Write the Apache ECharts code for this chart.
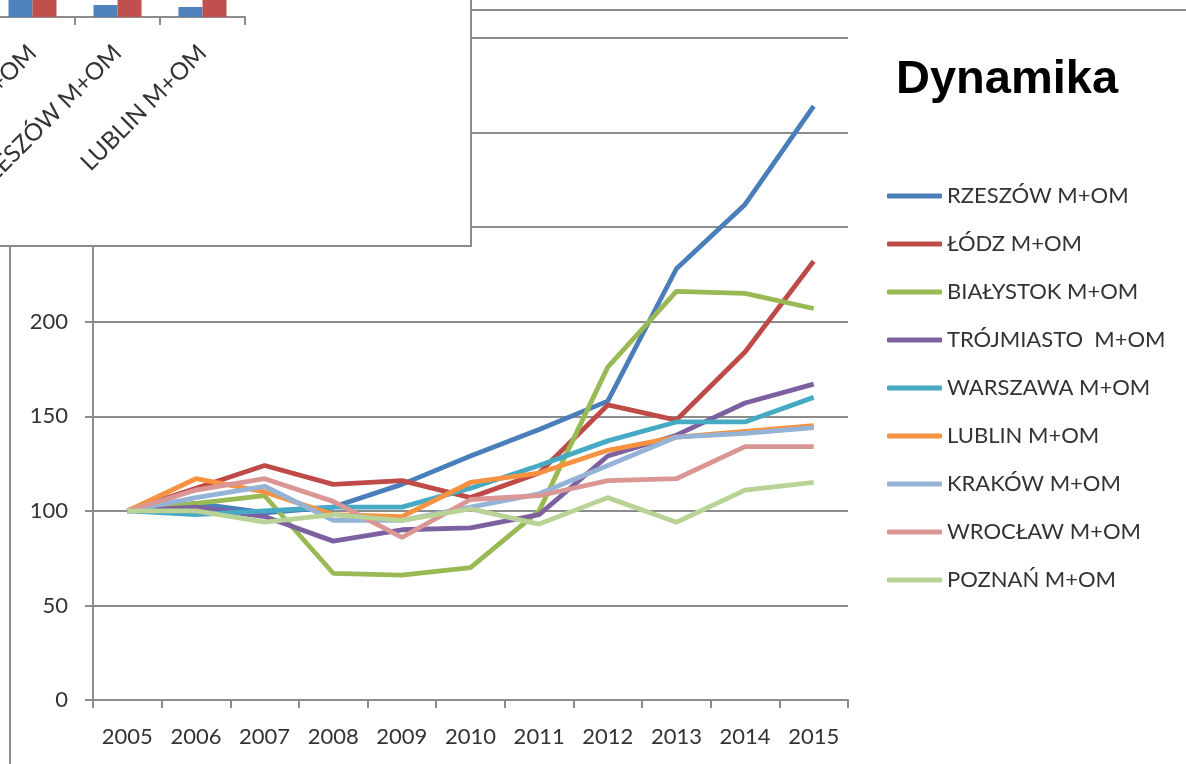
<!DOCTYPE html>
<html>
<head>
<meta charset="utf-8">
<script src="https://cdn.jsdelivr.net/npm/echarts@6/dist/echarts.min.js"></script>
<style>
  html, body { margin: 0; padding: 0; background: #fff; }
  #main { position: absolute; left: 0; top: 0; width: 1186px; height: 764px; }
  #inset { position: absolute; left: 0; top: 0; width: 470px; height: 245px; background: #fff;
           border-right: 2px solid #8c8c8c; border-bottom: 2px solid #8c8c8c; }
</style>
</head>
<body>
<div id="main"></div>
<div id="inset"></div>
<script>
// lata
var years = ['2005', '2006', '2007', '2008', '2009', '2010', '2011', '2012', '2013', '2014', '2015'];

// dynamika, 2005 = 100
var rzeszow    = [100, 104, 99, 102, 114, 129, 143, 158, 228, 262, 314];
var lodz       = [100, 112, 124, 114, 116, 107, 120, 156, 148, 184, 232];
var bialystok  = [100, 104, 108, 67, 66, 70, 100, 176, 216, 215, 207];
var trojmiasto = [100, 102, 97, 84, 90, 91, 98, 129, 140, 157, 167];
var warszawa   = [100, 98, 100, 102, 102, 112, 124, 137, 147, 147, 160];
var lublin     = [100, 117, 110, 98, 97, 115, 120, 132, 139, 142, 145];
var krakow     = [100, 107, 113, 95, 95, 102, 109, 124, 139, 141, 144];
var wroclaw    = [100, 111, 117, 105, 86, 106, 108, 116, 117, 134, 134];
var poznan     = [100, 100, 94, 98, 95, 101, 93, 107, 94, 111, 115];

var seriesNames = ['RZESZÓW M+OM', 'ŁÓDZ M+OM', 'BIAŁYSTOK M+OM', 'TRÓJMIASTO  M+OM', 'WARSZAWA M+OM',
                   'LUBLIN M+OM', 'KRAKÓW M+OM', 'WROCŁAW M+OM', 'POZNAŃ M+OM'];
var seriesData = [rzeszow, lodz, bialystok, trojmiasto, warszawa, lublin, krakow, wroclaw, poznan];
var colors = ['#4a7ebb', '#be4b48', '#98b954', '#7d60a0', '#46aac5', '#f69240', '#95b3d7', '#d99694', '#b9d396'];

// ticks osi Y
var yTicks = [0, 50, 100, 150, 200, 250, 300, 350];

// wykres wstawiony (lewy gorny rog) - tylko dolna czesc widoczna
var insetCats = ['BIAŁYSTOK M+OM', 'RZESZÓW M+OM', 'LUBLIN M+OM'];
var insetBlue = [40, 12, 10];
var insetRed  = [60, 70, 80];

var font = 'Lato';
var gridColor = '#8c8c8c';

var series = [];
for (var i = 0; i < seriesNames.length; i++) {
    series.push({
        name: seriesNames[i],
        type: 'line',
        data: seriesData[i],
        showSymbol: false,
        symbol: 'none',
        lineStyle: { width: 4.8, color: colors[i] },
        itemStyle: { color: colors[i] }
    });
}

var option = {
    animation: false,
    backgroundColor: '#fff',
    color: colors,
    title: {
        text: 'Dynamika',
        left: 891,
        top: 52,
        textStyle: { fontFamily: 'Liberation Sans', fontWeight: 'bold', fontSize: 47, color: '#000' }
    },
    legend: {
        orient: 'vertical',
        left: 882,
        top: 180,
        itemWidth: 55,
        itemHeight: 5,
        itemGap: 26,
        icon: 'roundRect',
        data: seriesNames,
        textStyle: { fontFamily: font, fontSize: 22, color: '#333', lineHeight: 22 }
    },
    grid: {
        left: 93,
        right: 1186 - 848,
        top: 38,
        bottom: 764 - 700,
        outerBoundsMode: 'none'
    },
    xAxis: {
        type: 'category',
        data: years,
        boundaryGap: true,
        axisLine: { lineStyle: { color: gridColor, width: 2 } },
        axisTick: { show: true, length: 8, lineStyle: { color: gridColor, width: 2 } },
        axisLabel: { fontFamily: font, fontSize: 22, color: '#333', margin: 26 },
        splitLine: { show: false }
    },
    yAxis: {
        type: 'value',
        min: yTicks[0],
        max: yTicks[yTicks.length - 1],
        interval: 50,
        axisLine: { show: true, lineStyle: { color: gridColor, width: 2 } },
        axisTick: { show: true, length: 8, lineStyle: { color: gridColor, width: 2 } },
        axisLabel: { fontFamily: font, fontSize: 22, color: '#333', margin: 25 },
        splitLine: { show: true, lineStyle: { color: gridColor, width: 2 } }
    },
    graphic: [{
        type: 'rect',
        shape: { x: 10, y: 10, width: 1300, height: 900 },
        style: { fill: null, stroke: gridColor, lineWidth: 2 },
        silent: true
    }],
    series: series
};

var myChart = echarts.init(document.getElementById('main'));
myChart.setOption(option);

var optionInset = {
    animation: false,
    grid: { left: -10, right: 470 - 245, top: -283, bottom: 245 - 17, outerBoundsMode: 'none' },
    xAxis: {
        type: 'category',
        data: insetCats,
        axisLine: { lineStyle: { color: gridColor, width: 2 } },
        axisTick: { show: true, length: 8, lineStyle: { color: gridColor, width: 2 } },
        axisLabel: { rotate: 45, fontFamily: font, fontSize: 24, color: '#333', margin: 32, interval: 0 }
    },
    yAxis: { type: 'value', min: 0, max: 300, show: false, splitLine: { show: false } },
    series: [
        { type: 'bar', data: insetBlue, barWidth: 24, barGap: '0%', itemStyle: { color: '#4f81bd' } },
        { type: 'bar', data: insetRed, barWidth: 24, barGap: '0%', itemStyle: { color: '#c0504d' } }
    ]
};
var myChart2 = echarts.init(document.getElementById('inset'));
myChart2.setOption(optionInset);
</script>
</body>
</html>
